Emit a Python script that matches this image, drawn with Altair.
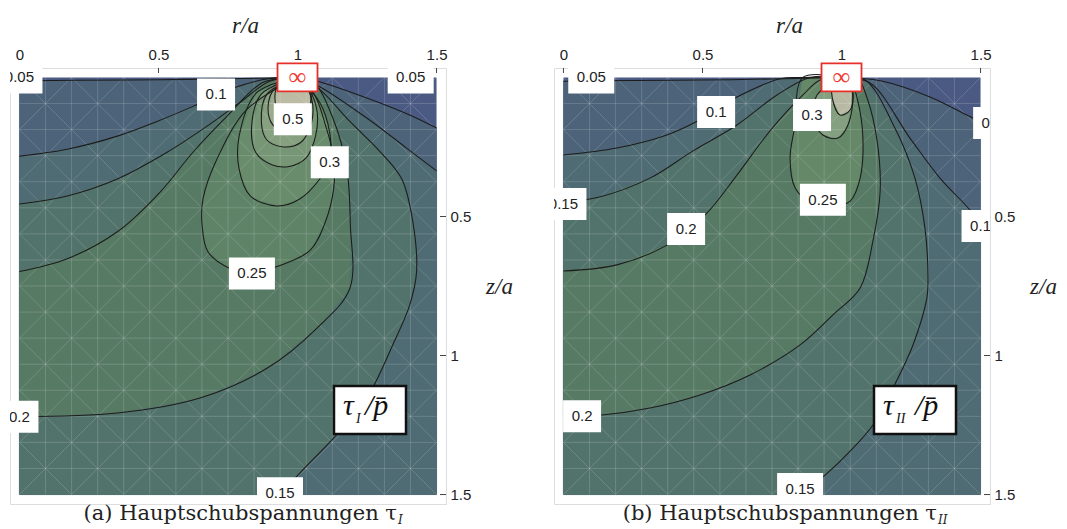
import altair as alt
import pandas as pd

SANS = "Liberation Sans"
SERIF = "Liberation Serif"
CAPTION_SERIF = "DejaVu Serif"

R_TICKS = [0, 0.5, 1, 1.5]
Z_TICKS = [0.5, 1, 1.5]
AXIS_DOMAIN = [-0.034, 1.534]
FIELD = [0.0, 1.5]
MESH_STEP = 0.09375
W = 436
H = 436

# ---------------- panel (a): tau_I / p ----------------
# contour branches as (r/a list, z/a list), each starting at the load edge r=a, z=0
A_BRANCHES = {
    "005L": ([1.0, 0.8, 0.5, 0.2, 0.0], [0.0, 0.004, 0.008, 0.01, 0.012]),
    "005R": ([1.0, 1.069, 1.249, 1.403, 1.5], [0.0, 0.013, 0.074, 0.135, 0.182]),
    "010L": ([1.0, 0.90, 0.775, 0.624, 0.495, 0.352, 0.172, 0.0],
             [0.0, 0.004, 0.036, 0.104, 0.158, 0.211, 0.258, 0.283]),
    "010R": ([1.0, 1.069, 1.249, 1.392, 1.5], [0.0, 0.027, 0.146, 0.254, 0.336]),
    "015L": ([1.0, 0.90, 0.793, 0.675, 0.531, 0.352, 0.172, 0.0],
             [0.0, 0.014, 0.090, 0.175, 0.269, 0.365, 0.426, 0.455]),
    "015B": ([1.0, 1.07, 1.19, 1.30, 1.375, 1.415, 1.428, 1.403, 1.342, 1.249, 1.127, 1.02, 0.937],
             [0.0, 0.035, 0.16, 0.27, 0.365, 0.52, 0.70, 0.82, 0.963, 1.153, 1.30, 1.41, 1.5]),
    "020L": ([1.0, 0.875, 0.746, 0.624, 0.506, 0.352, 0.172, 0.0],
             [0.0, 0.018, 0.140, 0.269, 0.412, 0.555, 0.652, 0.698]),
    "020B": ([1.0, 1.06, 1.127, 1.177, 1.19, 1.188, 1.069, 0.89, 0.649, 0.352, 0.0],
             [0.0, 0.02, 0.146, 0.326, 0.53, 0.759, 0.902, 1.046, 1.153, 1.207, 1.22]),
    "025": ([1.0, 0.818, 0.710, 0.660, 0.657, 0.678, 0.757, 0.84, 0.926, 1.044, 1.10, 1.13, 1.13, 1.10, 1.06, 1.0],
            [0.0, 0.115, 0.294, 0.437, 0.533, 0.627, 0.687, 0.705, 0.680, 0.623, 0.52, 0.40, 0.29, 0.17, 0.06, 0.0]),
    "030": ([1.0, 0.854, 0.79, 0.79, 0.83, 0.926, 1.008, 1.08, 1.116, 1.116, 1.08, 1.0],
            [0.0, 0.054, 0.211, 0.33, 0.426, 0.462, 0.437, 0.365, 0.30, 0.20, 0.09, 0.0]),
    "035": ([1.0, 0.87, 0.835, 0.85, 0.91, 0.97, 1.03, 1.065, 1.07, 1.04, 1.0],
            [0.0, 0.06, 0.175, 0.27, 0.315, 0.32, 0.29, 0.21, 0.12, 0.04, 0.0]),
    "040": ([1.0, 0.89, 0.87, 0.89, 0.95, 1.01, 1.045, 1.055, 1.03, 1.0],
            [0.0, 0.06, 0.16, 0.225, 0.25, 0.235, 0.18, 0.1, 0.03, 0.0]),
    "045": ([1.0, 0.91, 0.895, 0.92, 0.97, 1.02, 1.045, 1.04, 1.0],
            [0.0, 0.05, 0.13, 0.18, 0.2, 0.18, 0.12, 0.04, 0.0]),
    "050": ([1.0, 0.93, 0.92, 0.945, 0.99, 1.03, 1.05, 1.045, 1.0],
            [0.0, 0.03, 0.09, 0.14, 0.155, 0.13, 0.08, 0.02, 0.0]),
}
# superlevel regions {tau > level}: branch names ("-" = reversed) and field corners
A_REGIONS = [
    (0.05, ["005L", (0.0, 1.5), (1.5, 1.5), "-005R"]),
    (0.10, ["010L", (0.0, 1.5), (1.5, 1.5), "-010R"]),
    (0.15, ["015L", (0.0, 1.5), "-015B"]),
    (0.20, ["020L", "-020B"]),
    (0.25, ["025"]), (0.30, ["030"]), (0.35, ["035"]),
    (0.40, ["040"]), (0.45, ["045"]), (0.50, ["050"]),
]
A_BASE = "#4a5a82"
A_COLORS = {0.05: "#4c6379", 0.10: "#4f6b73", 0.15: "#52736b", 0.20: "#577a64",
            0.25: "#5e8366", 0.30: "#698c6c", 0.35: "#779675", 0.40: "#87a080",
            0.45: "#9cab8e", 0.50: "#bcbca4"}
A_LABELS = ["0.05", "0.1", "0.05", "0.5", "0.3", "0.25", "0.2", "0.15"]
A_LABEL_R = [0.0, 0.707, 1.407, 0.983, 1.116, 0.836, 0.0, 0.937]
A_LABEL_Z = [0.0, 0.061, 0.0, 0.15, 0.305, 0.705, 1.22, 1.495]

# ---------------- panel (b): tau_II / p ----------------
B_BRANCHES = {
    "005L": ([1.0, 0.6, 0.1, 0.0], [0.0, 0.008, 0.012, 0.014]),
    "005R": ([1.0, 1.14, 1.318, 1.45, 1.5], [0.0, 0.012, 0.07, 0.135, 0.16]),
    "010L": ([1.0, 0.85, 0.779, 0.617, 0.484, 0.372, 0.192, 0.0],
             [0.0, 0.0, 0.005, 0.074, 0.156, 0.207, 0.254, 0.279]),
    "010R": ([1.0, 1.103, 1.246, 1.354, 1.462, 1.5], [0.0, 0.02, 0.218, 0.362, 0.477, 0.53]),
    "015L": ([1.0, 0.887, 0.768, 0.624, 0.466, 0.311, 0.13, 0.0],
             [0.0, 0.0, 0.063, 0.171, 0.264, 0.362, 0.43, 0.45]),
    "015B": ([1.0, 1.085, 1.192, 1.264, 1.3, 1.311, 1.307, 1.257, 1.185, 1.113, 1.031, 0.941, 0.851],
             [0.0, 0.009, 0.182, 0.362, 0.542, 0.721, 0.793, 0.962, 1.117, 1.25, 1.344, 1.43, 1.5]),
    "020L": ([1.0, 0.923, 0.861, 0.743, 0.624, 0.509, 0.372, 0.192, 0.0],
             [0.0, 0.009, 0.063, 0.192, 0.351, 0.495, 0.603, 0.674, 0.696]),
    "020B": ([1.0, 1.056, 1.092, 1.128, 1.139, 1.113, 1.067, 0.969, 0.851, 0.671, 0.491, 0.311, 0.138, 0.0],
             [0.0, 0.0, 0.074, 0.228, 0.408, 0.588, 0.757, 0.854, 0.962, 1.07, 1.142, 1.189, 1.214, 1.218]),
    "025": ([1.0, 0.861, 0.833, 0.815, 0.833, 0.887, 0.959, 1.031, 1.067, 1.077, 1.056, 1.031, 1.0],
            [0.0, 0.0, 0.171, 0.29, 0.397, 0.45, 0.465, 0.445, 0.362, 0.218, 0.074, 0.009, 0.0]),
    "030": ([1.0, 0.912, 0.897, 0.933, 0.987, 1.023, 1.038, 1.0],
            [0.0, 0.063, 0.146, 0.207, 0.218, 0.171, 0.049, 0.0]),
    "035": ([1.0, 0.97, 0.967, 0.995, 1.031, 1.038, 1.0],
            [0.0, 0.0, 0.074, 0.135, 0.117, 0.038, 0.0]),
}
B_REGIONS = [
    (0.05, ["005L", (0.0, 1.5), (1.5, 1.5), "-005R"]),
    (0.10, ["010L", (0.0, 1.5), (1.5, 1.5), "-010R"]),
    (0.15, ["015L", (0.0, 1.5), "-015B"]),
    (0.20, ["020L", "-020B"]),
    (0.25, ["025"]), (0.30, ["030"]), (0.35, ["035"]),
]
B_BASE = "#4a5a82"
B_COLORS = {0.05: "#4c6379", 0.10: "#4f6b73", 0.15: "#52736b", 0.20: "#577a64",
            0.25: "#648868", 0.30: "#84a080", 0.35: "#b8b9a2"}
B_LABELS = ["0.05", "0.1", "0.3", "0.15", "0.2", "0.25", "0.05", "0.1", "0.2", "0.15"]
B_LABEL_R = [0.1, 0.549, 0.894, 0.0, 0.441, 0.933, 1.556, 1.5, 0.067, 0.851]
B_LABEL_Z = [0.0, 0.124, 0.135, 0.455, 0.545, 0.44, 0.164, 0.534, 1.218, 1.48]


def branch_df(branches):
    rows = []
    for name, (rs, zs) in branches.items():
        for i, (r, z) in enumerate(zip(rs, zs)):
            rows.append({"key": name, "i": i, "r": r, "z": z})
    return pd.DataFrame(rows)


def region_df(branches, recipe):
    pts = []
    for item in recipe:
        if isinstance(item, str):
            rs, zs = branches[item.lstrip("-")]
            seq = list(zip(rs, zs))
            pts.extend(seq[::-1] if item.startswith("-") else seq)
        else:
            pts.append(item)
    return pd.DataFrame({"r": [p[0] for p in pts], "z": [p[1] for p in pts], "i": range(len(pts))})


def mesh_df():
    """Faint triangulation seams of the shaded field."""
    lo, hi = FIELD
    n = int(round((hi - lo) / MESH_STEP))
    rows = []
    for k in range(1, n):
        v = lo + k * MESH_STEP
        rows.append({"r": v, "z": lo, "r2": v, "z2": hi})
        rows.append({"r": lo, "z": v, "r2": hi, "z2": v})
    for k in range(-n + 2, n, 2):
        c = k * MESH_STEP
        if c >= 0:
            rows.append({"r": c, "z": lo, "r2": hi, "z2": hi - c})
        else:
            rows.append({"r": lo, "z": -c, "r2": hi + c, "z2": hi})
    for k in range(2, 2 * n, 2):
        c = k * MESH_STEP
        if c <= hi:
            rows.append({"r": c, "z": lo, "r2": lo, "z2": c})
        else:
            rows.append({"r": hi, "z": c - hi, "r2": c - hi, "z2": hi})
    return pd.DataFrame(rows)


def panel(branches, regions, base, colors, labels, lab_r, lab_z, sym, sym_left, cap_right, cap):
    x = alt.X("r:Q", scale=alt.Scale(domain=AXIS_DOMAIN, nice=False, zero=False),
              axis=alt.Axis(orient="top", values=R_TICKS, format="~g", ticks=False, domain=False,
                            grid=False, labelFont=SANS, labelFontSize=15, labelColor="#222",
                            labelPadding=6, title="r/a", titleFont=SERIF, titleFontSize=23,
                            titleFontStyle="italic", titleFontWeight="normal", titleColor="#222",
                            titleX=235, titleY=-43, titleBaseline="middle"))
    y = alt.Y("z:Q", scale=alt.Scale(domain=AXIS_DOMAIN, reverse=True, nice=False, zero=False),
              axis=alt.Axis(orient="right", values=Z_TICKS, format="~g", ticks=False, domain=False,
                            grid=False, labelFont=SANS, labelFontSize=15, labelColor="#222",
                            labelPadding=4, title="z/a", titleFont=SERIF, titleFontSize=23,
                            titleFontStyle="italic", titleFontWeight="normal", titleColor="#222",
                            titleAngle=0, titleX=53, titleY=218, titleAlign="center",
                            titleBaseline="middle"))

    field = pd.DataFrame({"r": [FIELD[0]], "r2": [FIELD[1]], "z": [FIELD[0]], "z2": [FIELD[1]]})
    layers = [alt.Chart(field).mark_rect(color=base).encode(x=x, x2="r2", y=y, y2="z2")]

    for level, recipe in regions:
        layers.append(
            alt.Chart(region_df(branches, recipe)).mark_line(
                fill=colors[level], stroke=colors[level], strokeWidth=0.6
            ).encode(x="r:Q", y="z:Q", order="i:Q")
        )

    layers.append(alt.Chart(mesh_df()).mark_rule(color="white", strokeWidth=0.8, opacity=0.2)
                  .encode(x="r:Q", y="z:Q", x2="r2:Q", y2="z2:Q"))

    layers.append(
        alt.Chart(branch_df(branches)).mark_line(color="#1c1c1c", strokeWidth=1.05, clip=True,
                                                 interpolate="catmull-rom")
        .encode(x="r:Q", y="z:Q", detail="key:N", order="i:Q")
    )

    # inward ticks on the top and right frame
    layers.append(alt.Chart(pd.DataFrame({"r": R_TICKS})).mark_rule(color="#444")
                  .encode(x="r:Q", y=alt.value(0), y2=alt.value(5)))
    layers.append(alt.Chart(pd.DataFrame({"z": Z_TICKS})).mark_rule(color="#444")
                  .encode(y="z:Q", x=alt.value(W - 6), x2=alt.value(W)))

    lab = pd.DataFrame({"t": labels, "r": lab_r, "z": lab_z})
    lab["n"] = lab["t"].str.len()
    for n, half in ((3, 19), (4, 23)):
        sub = lab[lab["n"] == n]
        layers.append(alt.Chart(sub).mark_rect(
            color="white", clip=True, xOffset=-half, x2Offset=half, yOffset=-16, y2Offset=16
        ).encode(x="r:Q", x2="r:Q", y="z:Q", y2="z:Q"))
    layers.append(alt.Chart(lab).mark_text(font=SANS, fontSize=15, color="#222", clip=True)
                  .encode(x="r:Q", y="z:Q", text="t:N"))

    # singular load edge marker
    edge = pd.DataFrame({"r": [1.0], "z": [0.0], "t": ["∞"]})
    layers.append(alt.Chart(edge).mark_rect(
        fill="white", stroke="#e8302a", strokeWidth=1.8, xOffset=-20, x2Offset=20, yOffset=-14,
        y2Offset=14
    ).encode(x="r:Q", x2="r:Q", y="z:Q", y2="z:Q"))
    layers.append(alt.Chart(edge).mark_text(font="DejaVu Sans", fontWeight=200, fontSize=25,
                                            color="#f03c36", dy=0)
                  .encode(x="r:Q", y="z:Q", text="t:N"))

    # quantity box
    one = pd.DataFrame({"k": [0]})
    wide = len(sym) > 1
    layers.append(alt.Chart(one).mark_rect(fill="white", stroke="#111", strokeWidth=2.5).encode(
        x=alt.value(sym_left), x2=alt.value(sym_left + (82 if wide else 72)),
        y=alt.value(318), y2=alt.value(366)))
    layers.append(alt.Chart(one).mark_text(font=SERIF, fontSize=30, fontStyle="italic", align="left",
                                           baseline="alphabetic", color="#111")
                  .encode(x=alt.value(sym_left + 9), y=alt.value(347), text=alt.value("τ")))
    layers.append(alt.Chart(one).mark_text(font=SERIF, fontSize=14, fontStyle="italic", align="left",
                                           baseline="alphabetic", color="#111")
                  .encode(x=alt.value(sym_left + 22), y=alt.value(355), text=alt.value(sym)))
    layers.append(alt.Chart(one).mark_text(font=SERIF, fontSize=30, fontStyle="italic", align="left",
                                           baseline="alphabetic", color="#111")
                  .encode(x=alt.value(sym_left + (41 if wide else 31)), y=alt.value(347),
                          text=alt.value("/p̄")))

    # caption under the panel
    layers.append(alt.Chart(one).mark_text(font=CAPTION_SERIF, fontSize=21, align="right",
                                           baseline="alphabetic", color="#222")
                  .encode(x=alt.value(cap_right), y=alt.value(452), text=alt.value(cap)))
    layers.append(alt.Chart(one).mark_text(font=CAPTION_SERIF, fontSize=12, fontStyle="italic",
                                           align="left", baseline="alphabetic", color="#222")
                  .encode(x=alt.value(cap_right + 1), y=alt.value(456), text=alt.value(sym)))

    return alt.layer(*layers).properties(width=W, height=H)


pa = panel(A_BRANCHES, A_REGIONS, A_BASE, A_COLORS, A_LABELS, A_LABEL_R, A_LABEL_Z,
           "I", 324, 387, "(a) Hauptschubspannungen τ")
pb = panel(B_BRANCHES, B_REGIONS, B_BASE, B_COLORS, B_LABELS, B_LABEL_R, B_LABEL_Z,
           "II", 320, 383, "(b) Hauptschubspannungen τ")

chart = alt.hconcat(pa, pb, spacing=108, bounds="flush").properties(
    padding={"left": 9, "top": 13, "right": 0, "bottom": 0}
).configure_view(stroke="#555", strokeWidth=1).configure(background="white")

chart.save("out.html", embed_options={"renderer": "svg", "actions": False})
